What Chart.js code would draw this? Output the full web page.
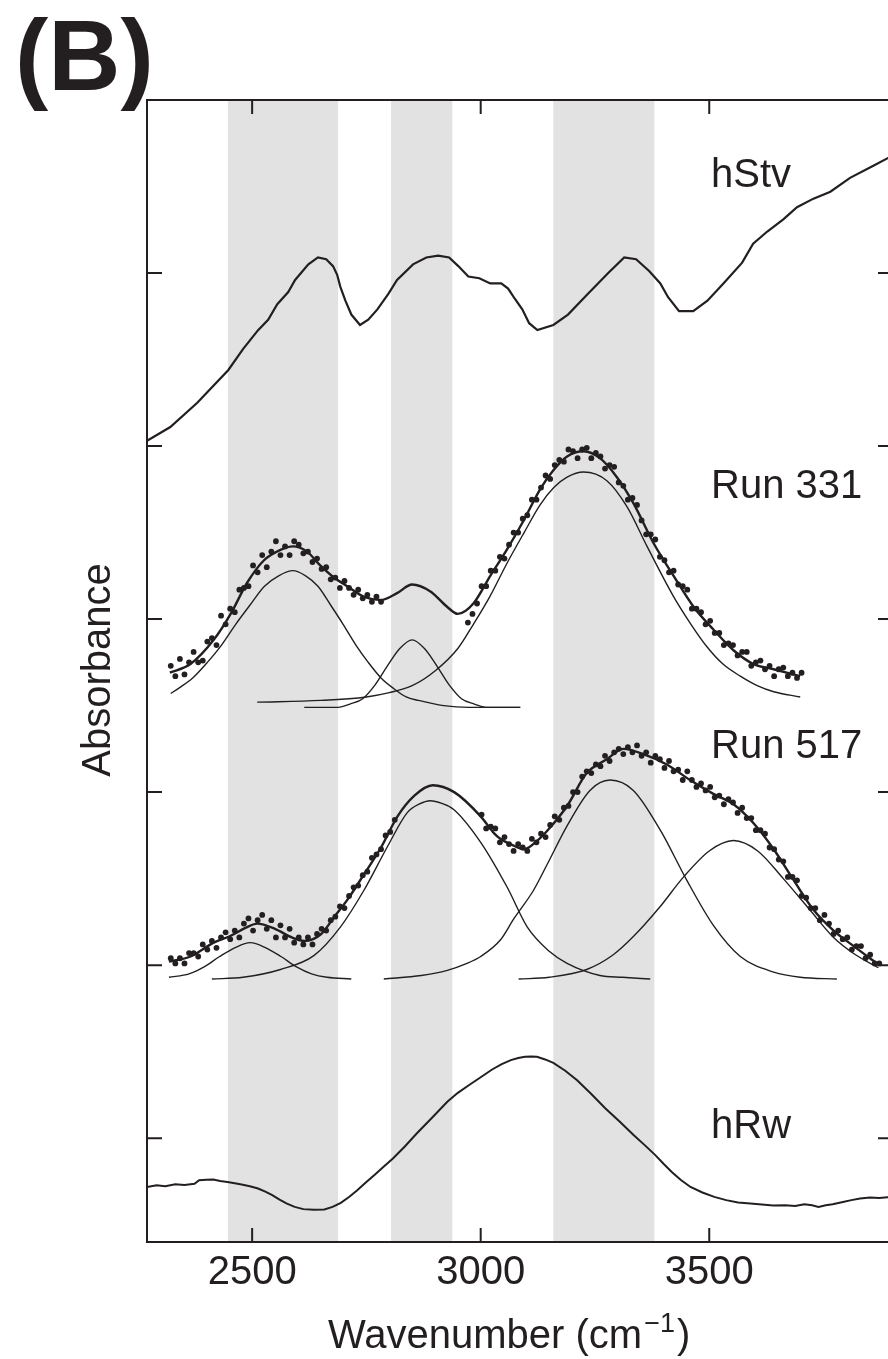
<!DOCTYPE html>
<html>
<head>
<meta charset="utf-8">
<title>Absorbance spectra (B)</title>
<script src="https://cdn.jsdelivr.net/npm/chart.js@4.4.0/dist/chart.umd.min.js"></script>
<style>
  html, body { margin: 0; padding: 0; overflow: hidden; background: #fff; }
  canvas { display: block; }
</style>
</head>
<body>
<canvas id="chart" width="900" height="1359"></canvas>
<script>
// axis ticks
const xTicks = [2500, 3000, 3500];
const yTicks = [1, 2, 3, 4, 5, 6];

// shaded wavenumber bands
const bandStart = [2447, 2804, 3159];
const bandEnd = [2688, 2938, 3380];

const seriesNames = ['hStv', 'Run 331', 'Run 517', 'hRw'];

// hStv spectrum
const hStvX = [2270,2321,2380,2448,2480,2513,2535,2555,2579,2594,2623,2644,2662,2677,2686,2693,2704,2717,2736,2754,2774,2798,2817,2852,2881,2907,2931,2951,2973,2997,3021,3045,3060,3075,3091,3106,3124,3159,3191,3231,3279,3314,3340,3369,3393,3410,3434,3465,3496,3531,3572,3596,3627,3662,3692,3728,3765,3808,3859,3902];
const hStvY = [5.03,5.11,5.25,5.44,5.56,5.67,5.73,5.82,5.89,5.96,6.05,6.09,6.08,6.04,5.99,5.92,5.84,5.76,5.70,5.73,5.79,5.88,5.96,6.05,6.09,6.10,6.09,6.04,5.98,5.97,5.94,5.94,5.91,5.85,5.79,5.71,5.67,5.70,5.76,5.87,6.00,6.09,6.08,6.01,5.94,5.86,5.78,5.78,5.84,5.94,6.06,6.17,6.24,6.31,6.38,6.43,6.47,6.55,6.62,6.68];

// Run 331 measured points
const run331DotX = [2322,2332,2342,2352,2362,2372,2382,2392,2402,2412,2422,2432,2442,2452,2462,2472,2482,2492,2502,2512,2522,2532,2542,2552,2562,2572,2582,2592,2602,2612,2622,2632,2642,2652,2662,2672,2682,2692,2702,2712,2722,2732,2742,2752,2762,2772,2782,
  2972,2982,2992,3002,3012,3022,3032,3042,3052,3062,3072,3082,3092,3102,3112,3122,3132,3142,3152,3162,3172,3182,3192,3202,3212,3222,3232,3242,3252,3262,3272,3282,3292,3302,3312,3322,3332,3342,3352,3362,3372,3382,3392,3402,3412,3422,3432,3442,3452,3462,3472,3482,3492,3502,3512,3522,3532,3542,3552,3562,3572,3582,3592,3602,3612,3622,3632,3642,3652,3662,3672,3682,3692,3702];
const run331DotY = [3.73,3.67,3.77,3.68,3.75,3.81,3.75,3.76,3.87,3.89,3.85,4.02,3.97,4.06,4.04,4.17,4.18,4.19,4.31,4.27,4.37,4.30,4.39,4.45,4.37,4.42,4.37,4.45,4.43,4.38,4.39,4.33,4.35,4.29,4.30,4.23,4.24,4.18,4.22,4.18,4.14,4.17,4.12,4.14,4.10,4.13,4.10,
  3.98,4.03,4.09,4.19,4.19,4.28,4.28,4.36,4.35,4.43,4.50,4.50,4.58,4.60,4.69,4.69,4.76,4.83,4.81,4.89,4.92,4.91,4.98,4.97,4.93,4.98,4.99,4.93,4.96,4.94,4.87,4.89,4.88,4.79,4.77,4.69,4.70,4.66,4.57,4.49,4.49,4.46,4.36,4.34,4.27,4.28,4.20,4.19,4.17,4.06,4.06,4.04,3.97,3.99,3.92,3.92,3.85,3.86,3.85,3.79,3.81,3.81,3.73,3.75,3.76,3.71,3.73,3.67,3.71,3.72,3.67,3.69,3.66,3.69];

// Run 331 fit and its three bands
const run331FitX = [2320,2365,2416,2453,2489,2526,2562,2589,2620,2649,2679,2708,2744,2781,2817,2850,2890,2927,2950,2984,3021,3057,3094,3130,3159,3189,3225,3261,3298,3334,3378,3422,3466,3509,3553,3597,3641,3699];
const run331FitY = [3.69,3.74,3.88,4.03,4.21,4.34,4.40,4.42,4.39,4.31,4.24,4.19,4.13,4.11,4.15,4.20,4.16,4.07,4.03,4.09,4.25,4.40,4.57,4.75,4.86,4.94,4.97,4.93,4.82,4.67,4.44,4.25,4.07,3.94,3.82,3.74,3.71,3.67];
const run331AX = [2322,2339,2370,2402,2433,2464,2495,2527,2558,2589,2617,2644,2672,2699,2727,2754,2782,2809,2837,2864,2919,2974,3086];
const run331AY = [3.57,3.60,3.66,3.75,3.85,3.97,4.08,4.19,4.25,4.28,4.25,4.19,4.08,3.97,3.85,3.75,3.66,3.60,3.55,3.53,3.50,3.49,3.49];
const run331BX = [2614,2688,2715,2742,2769,2796,2823,2850,2877,2904,2931,2958,2985,3012,3087];
const run331BY = [3.49,3.49,3.51,3.54,3.62,3.73,3.83,3.88,3.83,3.73,3.62,3.54,3.51,3.49,3.49];
const run331CX = [2511,2650,2750,2800,2850,2900,2950,2984,3020,3057,3095,3130,3160,3189,3225,3276,3320,3364,3422,3460,3495,3530,3568,3605,3641,3699];
const run331CY = [3.52,3.53,3.55,3.575,3.615,3.70,3.83,3.97,4.13,4.32,4.50,4.66,4.76,4.82,4.85,4.80,4.65,4.42,4.13,3.97,3.84,3.74,3.67,3.615,3.58,3.55];

// Run 517 measured points
const run517DotX = [2322,2332,2342,2352,2362,2372,2382,2392,2402,2412,2422,2432,2442,2452,2462,2472,2482,2492,2502,2512,2522,2532,2542,2552,2562,2572,2582,2592,2602,2612,2622,2632,2642,2652,2662,2672,2682,2692,2702,2712,2722,2732,2742,2752,2762,2772,2782,2792,2802,2812,
  3002,3012,3022,3032,3042,3052,3062,3072,3082,3092,3102,3112,3122,3132,3142,3152,3162,3172,3182,3192,3202,3212,3222,3232,3242,3252,3262,3272,3282,3292,3302,3312,3322,3332,3342,3352,3362,3372,3382,3392,3402,3412,3422,3432,3442,3452,3462,3472,3482,3492,3502,3512,3522,3532,3542,3552,3562,3572,3582,3592,3602,3612,3622,3632,3642,3652,3662,3672,3682,3692,3702,3712,3722,3732,3742,3752,3762,3772,3782,3792,3802,3812,3822,3832,3842,3852,3862,3872];
const run517DotY = [2.04,2.01,2.04,2.01,2.07,2.07,2.05,2.12,2.09,2.14,2.10,2.16,2.19,2.15,2.20,2.16,2.24,2.27,2.20,2.26,2.29,2.21,2.26,2.16,2.23,2.16,2.21,2.13,2.16,2.12,2.16,2.12,2.18,2.21,2.20,2.26,2.28,2.34,2.33,2.40,2.45,2.46,2.52,2.54,2.62,2.64,2.67,2.75,2.77,2.84,
  2.87,2.79,2.80,2.79,2.71,2.74,2.70,2.66,2.70,2.68,2.66,2.73,2.71,2.76,2.74,2.81,2.86,2.84,2.91,2.92,3.00,3.00,3.09,3.12,3.11,3.16,3.15,3.21,3.18,3.23,3.25,3.22,3.26,3.23,3.27,3.21,3.23,3.17,3.21,3.19,3.14,3.18,3.12,3.13,3.07,3.12,3.07,3.03,3.05,3.01,3.03,2.97,2.98,2.93,2.96,2.94,2.88,2.91,2.85,2.85,2.78,2.78,2.76,2.68,2.67,2.61,2.60,2.51,2.51,2.49,2.40,2.39,2.33,2.33,2.26,2.29,2.24,2.18,2.20,2.15,2.16,2.09,2.11,2.11,2.04,2.06,2.01,2.01];

// Run 517 fit and its four bands
const run517FitX = [2318,2365,2416,2453,2489,2511,2550,2587,2615,2651,2680,2709,2746,2782,2818,2855,2895,2942,3000,3030,3043,3073,3095,3124,3150,3189,3232,3276,3312,3356,3407,3458,3509,3553,3597,3641,3685,3728,3772,3816,3867];
const run517FitY = [2.02,2.05,2.13,2.17,2.22,2.24,2.21,2.16,2.14,2.18,2.28,2.38,2.53,2.68,2.86,2.98,3.04,3.00,2.86,2.76,2.73,2.69,2.67,2.72,2.79,2.92,3.11,3.19,3.25,3.22,3.16,3.07,2.99,2.93,2.82,2.67,2.49,2.32,2.20,2.11,2.01];
const run517DX = [2318,2362,2395,2429,2462,2496,2530,2563,2597,2630,2664,2717];
const run517DY = [1.93,1.95,1.99,2.05,2.10,2.13,2.10,2.05,1.99,1.95,1.93,1.92];
const run517EX = [2412,2480,2562,2635,2693,2744,2795,2839,2865,2890,2915,2941,3000,3058,3102,3150,3189,3261,3310,3371];
const run517EY = [1.92,1.93,1.975,2.055,2.22,2.43,2.68,2.88,2.93,2.95,2.935,2.90,2.71,2.45,2.22,2.08,2.01,1.94,1.93,1.92];
const run517FX = [2788,2870,2927,2970,3000,3043,3073,3115,3145,3189,3239,3283,3334,3393,3451,3509,3568,3641,3699,3779];
const run517FY = [1.92,1.94,1.97,2.01,2.05,2.145,2.27,2.43,2.58,2.805,3.01,3.07,3.01,2.78,2.49,2.23,2.05,1.96,1.93,1.92];
const run517GX = [3083,3150,3232,3290,3334,3390,3444,3500,3553,3606,3662,3720,3772,3820,3870];
const run517GY = [1.92,1.93,1.975,2.06,2.165,2.33,2.51,2.66,2.72,2.66,2.50,2.32,2.16,2.06,1.985];

// hRw spectrum
const hRwX = [2270,2291,2310,2332,2352,2374,2384,2400,2415,2430,2446,2462,2477,2495,2513,2530,2544,2560,2575,2593,2612,2635,2658,2676,2694,2712,2730,2748,2767,2787,2808,2834,2860,2893,2927,2950,2974,3000,3025,3046,3066,3082,3097,3110,3123,3141,3159,3185,3211,3242,3273,3305,3335,3360,3382,3400,3418,3438,3459,3485,3511,3537,3563,3590,3615,3640,3666,3688,3708,3725,3739,3755,3770,3790,3811,3830,3852,3872,3902];
const hRwY = [0.718,0.728,0.722,0.734,0.730,0.736,0.757,0.760,0.761,0.752,0.747,0.740,0.732,0.722,0.709,0.690,0.671,0.645,0.623,0.603,0.590,0.586,0.588,0.603,0.626,0.660,0.699,0.742,0.786,0.833,0.883,0.952,1.027,1.117,1.210,1.262,1.306,1.352,1.397,1.428,1.451,1.463,1.470,1.472,1.470,1.455,1.435,1.390,1.335,1.255,1.172,1.093,1.017,0.957,0.902,0.852,0.805,0.758,0.718,0.686,0.661,0.642,0.628,0.622,0.617,0.611,0.613,0.608,0.618,0.612,0.603,0.612,0.618,0.630,0.642,0.651,0.657,0.655,0.661];

const ink = '#231f20';
const fontFamily = '"Liberation Sans", Arial, Helvetica, sans-serif';

const toPoints = (xs, ys) => xs.map((x, i) => ({ x: x, y: ys[i] }));

const lineSet = (xs, ys, width, smooth) => ({
  data: toPoints(xs, ys),
  showLine: true,
  borderColor: ink,
  borderWidth: width,
  pointRadius: 0,
  tension: 0,
  cubicInterpolationMode: smooth ? 'monotone' : 'default',
});

const dotSet = (xs, ys) => ({
  data: toPoints(xs, ys),
  showLine: false,
  pointRadius: 2.9,
  pointBackgroundColor: ink,
  pointBorderWidth: 0,
});

const decorations = {
  id: 'decorations',
  beforeDatasetsDraw(chart) {
    const { ctx, chartArea: a, scales: { x } } = chart;
    ctx.save();
    ctx.fillStyle = '#e2e2e2';
    bandStart.forEach((s, i) => {
      const x0 = x.getPixelForValue(s);
      const x1 = x.getPixelForValue(bandEnd[i]);
      ctx.fillRect(x0, a.top, x1 - x0, a.bottom - a.top);
    });
    ctx.restore();
  },
  afterDraw(chart) {
    const { ctx, chartArea: a, scales: { x, y } } = chart;
    ctx.save();

    // frame and inward ticks
    ctx.strokeStyle = ink;
    ctx.lineWidth = 2;
    ctx.strokeRect(a.left, a.top, a.right - a.left, a.bottom - a.top);
    ctx.beginPath();
    xTicks.forEach((v) => {
      const px = x.getPixelForValue(v);
      ctx.moveTo(px, a.bottom);
      ctx.lineTo(px, a.bottom - 14);
      ctx.moveTo(px, a.top);
      ctx.lineTo(px, a.top + 14);
    });
    yTicks.forEach((v) => {
      const py = y.getPixelForValue(v);
      ctx.moveTo(a.left, py);
      ctx.lineTo(a.left + 15, py);
      ctx.moveTo(a.right, py);
      ctx.lineTo(a.right - 15, py);
    });
    ctx.stroke();

    ctx.fillStyle = ink;
    ctx.textBaseline = 'alphabetic';

    // series names
    ctx.font = '40px ' + fontFamily;
    ctx.textAlign = 'left';
    const nameY = [6.50, 4.70, 3.20, 1.0];
    seriesNames.forEach((name, i) => {
      ctx.fillText(name, x.getPixelForValue(3504), y.getPixelForValue(nameY[i]));
    });

    // panel letter
    ctx.font = 'bold 100px ' + fontFamily;
    ctx.fillText('(B)', 15, 90);

    // x title with superscript
    ctx.font = '40px ' + fontFamily;
    const base = 'Wavenumber (cm';
    let tx = 328;
    ctx.fillText(base, tx, 1348);
    tx += ctx.measureText(base).width + 2;
    ctx.font = '27px ' + fontFamily;
    ctx.fillText('\u22121', tx, 1332);
    tx += ctx.measureText('\u22121').width + 2;
    ctx.font = '40px ' + fontFamily;
    ctx.fillText(')', tx, 1348);

    // y title
    ctx.translate(110, 670);
    ctx.rotate(-Math.PI / 2);
    ctx.textAlign = 'center';
    ctx.fillText('Absorbance', 0, 0);

    ctx.restore();
  },
};

new Chart(document.getElementById('chart'), {
  type: 'scatter',
  data: {
    datasets: [
      lineSet(hStvX, hStvY, 2.2, false),
      dotSet(run331DotX, run331DotY),
      lineSet(run331FitX, run331FitY, 2.4, true),
      lineSet(run331AX, run331AY, 1.4, true),
      lineSet(run331BX, run331BY, 1.4, true),
      lineSet(run331CX, run331CY, 1.4, true),
      dotSet(run517DotX, run517DotY),
      lineSet(run517FitX, run517FitY, 2.4, true),
      lineSet(run517DX, run517DY, 1.4, true),
      lineSet(run517EX, run517EY, 1.4, true),
      lineSet(run517FX, run517FY, 1.4, true),
      lineSet(run517GX, run517GY, 1.4, true),
      lineSet(hRwX, hRwY, 2, false),
    ],
  },
  options: {
    responsive: false,
    animation: false,
    devicePixelRatio: 1,
    layout: { padding: { left: 147, top: 100, right: 7, bottom: 0 } },
    plugins: { legend: { display: false }, tooltip: { enabled: false } },
    scales: {
      x: {
        type: 'linear',
        position: 'bottom',
        min: 2270,
        max: 3902,
        grid: { display: false, drawTicks: false },
        border: { display: false },
        ticks: {
          color: ink,
          font: { size: 40, family: fontFamily },
          padding: 7,
          maxRotation: 0,
          autoSkip: false,
          callback: (v) => String(v),
        },
        afterBuildTicks: (scale) => {
          scale.ticks = xTicks.map((v) => ({ value: v }));
        },
        afterFit: (scale) => {
          scale.height = 117;
        },
      },
      y: {
        type: 'linear',
        min: 0.4,
        max: 7.0,
        display: false,
      },
    },
  },
  plugins: [decorations],
});
</script>
</body>
</html>
